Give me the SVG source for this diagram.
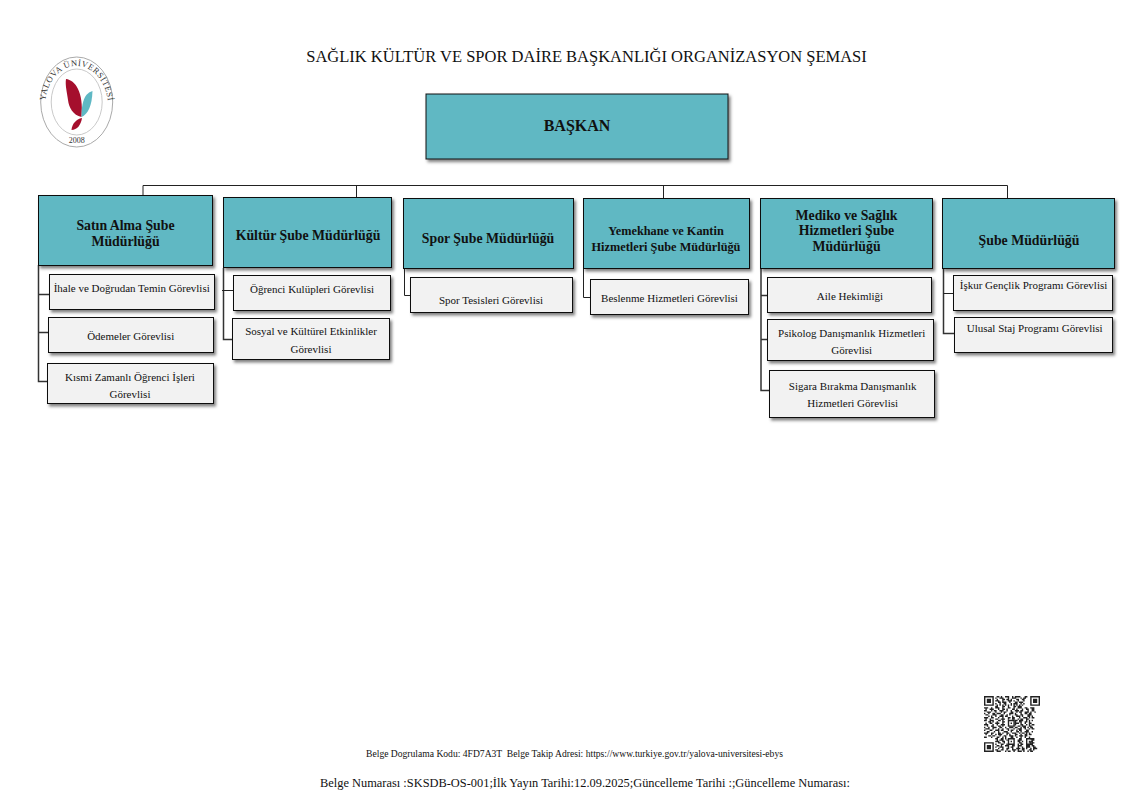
<svg xmlns="http://www.w3.org/2000/svg" width="1148" height="812" viewBox="0 0 1148 812">
<style>
text{font-family:"Liberation Serif","Times New Roman",serif;fill:#111;text-anchor:middle;white-space:pre}
.h rect{fill:#60b8c3;stroke:#111;stroke-width:1;filter:url(#s)}
.c rect{fill:#f2f2f2;stroke:#111;stroke-width:1;filter:url(#s)}
.h text{font-weight:bold;font-size:13.800px}
.c text{font-size:11px}
#conn path{fill:none;stroke:#222;stroke-width:1}
#conn path.t{stroke-width:1.500;stroke:#333}
</style>
<defs>
<filter id="s" x="-5%" y="-10%" width="112%" height="130%"><feDropShadow dx="2" dy="2.500" stdDeviation="1.800" flood-color="#000" flood-opacity=".5"/></filter>
<filter id="b"><feGaussianBlur stdDeviation=".35"/></filter>
<path id="arc" d="M45.500 113 A31.500 40 0 1 1 107.500 113"/>
</defs>
<rect width="1148" height="812" fill="#fff"/>
<text id="title" x="586.500" y="62" font-size="16.500">SAĞLIK KÜLTÜR VE SPOR DAİRE BAŞKANLIĞI ORGANİZASYON ŞEMASI</text>
<g id="logo">
<ellipse cx="76.700" cy="102" rx="36" ry="45" fill="#fff" stroke="#aaa" stroke-width="1"/>
<ellipse cx="76.700" cy="102" rx="25.500" ry="33" fill="none" stroke="#bbb" stroke-width=".8"/>
<text font-size="8.500" style="fill:#333"><textPath href="#arc" startOffset="50%" textLength="102" lengthAdjust="spacing">YALOVA ÜNİVERSİTESİ</textPath></text>
<path d="M66 79C75 80 84 92 81.500 117C73 115 69 108 68 100C67 92 65 85 66 79Z" fill="#a50f2d"/>
<path d="M82 118C76 119 72 124 71.500 130C77 130 81 125 82 118Z" fill="#a50f2d"/>
<path d="M92.500 91C86 93 81.500 99 81.500 117C88 114 92 106 92.500 91Z" fill="#5fb8c4"/>
<text x="76.700" y="143" font-size="8" style="fill:#333">2008</text>
</g>
<g id="conn">
<path d="M143 195V185.500H1007.500V198"/>
<path d="M356.500 185.500V197M663.500 185.500V198"/>
<path class="t" d="M38.500 265V381.500H47M38.500 294.500H49M38.500 332.500H48"/>
<path class="t" d="M223.500 268V339.500H232"/><path d="M222 290.500H233"/>
<path d="M404.500 269V295.500H410"/>
<path d="M583.500 269V297.500H590"/>
<path class="t" d="M761 268V390.500H769M761 295.500H767M761 339.500H767"/>
<path class="t" d="M943.500 268V333.500H954"/><path d="M943.500 293.500H953"/>
</g>
<g id="baskan" class="h"><rect x="426" y="94" width="302" height="65"/><text x="577" y="131" style="font-size:16px">BAŞKAN</text></g>
<g id="satin-alma" class="h"><rect x="38.500" y="195.500" width="174" height="70"/><text x="125.500" y="230">Satın Alma Şube</text><text x="125.500" y="245.500">Müdürlüğü</text></g>
<g id="kultur" class="h"><rect x="223.500" y="197.500" width="168" height="70"/><text x="308" y="240">Kültür Şube Müdürlüğü</text></g>
<g id="spor" class="h"><rect x="403.500" y="198.500" width="170" height="70"/><text x="488" y="243">Spor Şube Müdürlüğü</text></g>
<g id="yemekhane" class="h"><rect x="583.500" y="198.500" width="166" height="70"/><text x="666" y="235" style="font-size:12.300px">Yemekhane ve Kantin</text><text x="666" y="251" style="font-size:12.300px">Hizmetleri Şube Müdürlüğü</text></g>
<g id="mediko" class="h"><rect x="760.500" y="198.500" width="172" height="70"/><text x="846.500" y="220">Mediko ve Sağlık</text><text x="846.500" y="235">Hizmetleri Şube</text><text x="846.500" y="251">Müdürlüğü</text></g>
<g id="sube" class="h"><rect x="942.500" y="198.500" width="172" height="70"/><text x="1029" y="245">Şube Müdürlüğü</text></g>
<g id="ihale" class="c"><rect x="49.500" y="274.500" width="165" height="35"/><text x="131.700" y="292">İhale ve Doğrudan Temin Görevlisi</text></g>
<g id="odemeler" class="c"><rect x="48.500" y="317.500" width="165" height="35"/><text x="130.700" y="340">Ödemeler Görevlisi</text></g>
<g id="kismi" class="c"><rect x="47.500" y="363.500" width="166" height="40"/><text x="130" y="381">Kısmi Zamanlı Öğrenci İşleri</text><text x="130" y="398">Görevlisi</text></g>
<g id="ogrenci" class="c"><rect x="233.500" y="275.500" width="157" height="35"/><text x="312" y="293">Öğrenci Kulüpleri Görevlisi</text></g>
<g id="sosyal" class="c"><rect x="232.500" y="318.500" width="157" height="41"/><text x="311" y="335">Sosyal ve Kültürel Etkinlikler</text><text x="311" y="353">Görevlisi</text></g>
<g id="spor-tesisleri" class="c"><rect x="410.500" y="277.500" width="162" height="35"/><text x="491" y="304">Spor Tesisleri Görevlisi</text></g>
<g id="beslenme" class="c"><rect x="590.500" y="279.500" width="158" height="35"/><text x="669.500" y="302">Beslenme Hizmetleri Görevlisi</text></g>
<g id="aile" class="c"><rect x="767.500" y="277.500" width="164" height="35"/><text x="850" y="300">Aile Hekimliği</text></g>
<g id="psikolog" class="c"><rect x="767.500" y="319.500" width="166" height="41"/><text x="851.700" y="337">Psikolog Danışmanlık Hizmetleri</text><text x="851.700" y="354">Görevlisi</text></g>
<g id="sigara" class="c"><rect x="769.500" y="370.500" width="165" height="47"/><text x="852.700" y="390">Sigara Bırakma Danışmanlık</text><text x="852.700" y="407">Hizmetleri Görevlisi</text></g>
<g id="iskur" class="c"><rect x="953.500" y="275.500" width="159" height="35"/><text x="1033.500" y="289">İşkur Gençlik Programı Görevlisi</text></g>
<g id="ulusal" class="c"><rect x="954.500" y="317.500" width="158" height="35"/><text x="1034.700" y="332">Ulusal Staj Programı Görevlisi</text></g>
<g id="qr" transform="translate(984 696) scale(1.400)" filter="url(#b)">
<path fill="#222" fill-rule="evenodd" d="M0 0h7v7h-7zM1 1v5h5v-5zM2 2h3v3h-3zM33 0h7v7h-7zM34 1v5h5v-5zM35 2h3v3h-3zM0 33h7v7h-7zM1 34v5h5v-5zM2 35h3v3h-3zM30 30h5v5h-5zM31 31v3h3v-3zM32 32h1v1h-1zM17 30h5v5h-5zM18 31v3h3v-3zM19 32h1v1h-1zM17 17h5v5h-5zM18 18v3h3v-3zM19 19h1v1h-1z"/>
<path fill="none" stroke="#222" stroke-width="1" transform="translate(0 .500)" d="M9 0h2m1 0h1m2 0h3m2 0h1m1 0h4m3 0h2M8 1h1m2 0h3m3 0h1m2 0h3m3 0h1m1 0h2M9 2h1m3 0h2m1 0h2m1 0h1m3 0h2m2 0h2M8 3h3m2 0h1m3 0h3m1 0h1m2 0h1m3 0h1M10 4h2m1 0h3m2 0h1m3 0h2m1 0h3M8 5h1m2 0h1m2 0h2m3 0h1m1 0h3m2 0h1m1 0h1M9 6h1m1 0h1m1 0h1m1 0h1m1 0h1m1 0h1m1 0h1m1 0h1m1 0h1m1 0h1M8 7h2m3 0h2m2 0h1m3 0h2m1 0h3M0 8h3m2 0h1m2 0h3m2 0h1m3 0h2m2 0h1m2 0h3m2 0h2m2 0h3M1 9h1m2 0h3m3 0h1m2 0h2m1 0h1m3 0h2m1 0h1m3 0h1m2 0h2m2 0h2M0 10h2m3 0h1m1 0h2m2 0h3m2 0h1m2 0h1m2 0h3m1 0h2m3 0h1m2 0h2M2 11h3m3 0h1m3 0h1m1 0h2m3 0h2m2 0h1m1 0h2m2 0h3m1 0h1m2 0h1M0 12h1m2 0h1m2 0h2m1 0h3m2 0h1m3 0h3m1 0h1m3 0h1m2 0h2m1 0h2M1 13h2m3 0h3m3 0h2m2 0h1m1 0h1m3 0h2m2 0h2m3 0h3M3 14h1m1 0h1m2 0h1m2 0h3m1 0h2m3 0h1m2 0h3m1 0h1m3 0h2m1 0h1M0 15h3m2 0h2m3 0h1m2 0h1m3 0h2m1 0h2m3 0h1m2 0h3m1 0h1m1 0h2M1 16h1m2 0h1m3 0h2m2 0h3m2 0h1m2 0h2m2 0h1m1 0h2m2 0h2M0 17h2m2 0h3m3 0h2m1 0h1m8 0h2m1 0h3m2 0h1m1 0h1m1 0h1M3 18h2m1 0h1m2 0h1m3 0h2m7 0h1m2 0h2m2 0h2m1 0h1M1 19h1m2 0h2m2 0h3m2 0h1m8 0h3m1 0h1m2 0h1m2 0h2M0 20h3m3 0h1m2 0h1m2 0h3m7 0h1m3 0h2m2 0h1m1 0h1m1 0h2M2 21h1m2 0h2m3 0h2m1 0h1m10 0h2m1 0h3m2 0h2M0 22h1m2 0h1m2 0h3m2 0h2m2 0h1m2 0h3m1 0h2m2 0h1m1 0h2m1 0h1m1 0h2M1 23h3m2 0h1m3 0h1m2 0h1m2 0h2m3 0h1m2 0h3m2 0h1m2 0h1m1 0h2M0 24h1m3 0h2m2 0h3m1 0h2m3 0h1m1 0h2m2 0h1m1 0h2m3 0h2M2 25h2m3 0h1m2 0h1m3 0h3m2 0h1m3 0h2m1 0h1m2 0h3m2 0h1M0 26h3m2 0h2m3 0h2m1 0h1m2 0h2m2 0h3m2 0h1m1 0h2m1 0h1m1 0h1M1 27h1m3 0h1m2 0h1m1 0h3m3 0h1m1 0h1m3 0h2m2 0h1m2 0h2m1 0h2M3 28h2m1 0h2m3 0h1m2 0h2m2 0h3m1 0h1m2 0h3m1 0h2M0 29h2m3 0h1m3 0h2m2 0h1m1 0h1m3 0h2m2 0h1m2 0h1m2 0h1m2 0h1M8 30h2m2 0h2m1 0h1m9 0h2m6 0h3M9 31h1m1 0h3m2 0h1m7 0h3m7 0h2M8 32h3m2 0h2m9 0h2m1 0h1m5 0h2M10 33h2m2 0h1m10 0h2m5 0h2m1 0h1M8 34h1m3 0h2m2 0h1m7 0h1m1 0h2m5 0h2M9 35h2m1 0h1m2 0h3m2 0h2m2 0h3m3 0h3m1 0h2M8 36h1m2 0h3m3 0h1m1 0h2m3 0h1m2 0h1m2 0h3m2 0h2M10 37h1m2 0h1m2 0h2m2 0h1m2 0h3m1 0h2m1 0h1m2 0h1m1 0h3M8 38h2m2 0h2m2 0h1m3 0h3m1 0h1m2 0h2m3 0h2m1 0h1M9 39h3m3 0h1m1 0h2m2 0h1m2 0h3m1 0h1m2 0h1m1 0h2"/>
</g>
<text id="verify" x="574.500" y="757" font-size="9.600">Belge Dogrulama Kodu: 4FD7A3T  Belge Takip Adresi: https://www.turkiye.gov.tr/yalova-universitesi-ebys</text>
<text id="docinfo" x="585" y="787" font-size="12.400">Belge Numarası :SKSDB-OS-001;İlk Yayın Tarihi:12.09.2025;Güncelleme Tarihi :;Güncelleme Numarası:</text>
</svg>
